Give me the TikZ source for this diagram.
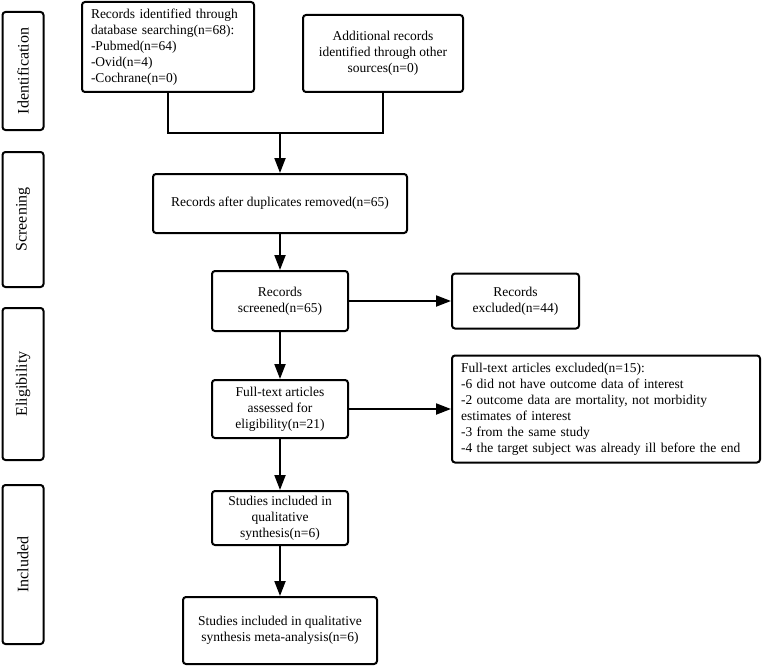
\documentclass[tikz,border=0pt]{standalone}
\usepackage{fontspec}
\setmainfont{Liberation Serif}
\usetikzlibrary{arrows.meta}
\tikzset{
  box/.style={draw, line width=2pt, rounded corners=3pt, align=center, inner sep=0pt,
    font=\fontsize{13.5}{16}\selectfont},
  lbox/.style={draw, line width=2pt, rounded corners=3pt, align=left, inner xsep=9pt, inner ysep=0pt,
    font=\fontsize{13.5}{16}\selectfont},
  side/.style={draw, line width=2pt, rounded corners=3pt, rotate=90, inner sep=0pt,
    minimum height=41pt, font=\fontsize{16}{18}\selectfont},
  conn/.style={line width=2pt},
  arr/.style={line width=2pt, -{Triangle[length=15pt,width=11pt]}},
}
\begin{document}
\begin{tikzpicture}[x=1pt,y=-1pt]
\useasboundingbox (0,0) rectangle (762,666);
% side labels
\node[side, minimum width=118pt] (sid) at (23,71) {Identification};
\node[side, minimum width=135pt] (ssc) at (23,219.5) {Screening};
\node[side, minimum width=152pt] (sel) at (23,384) {Eligibility};
\node[side, minimum width=159pt] (sin) at (23,564.5) {Included};
% boxes
\node[lbox, text width=154pt, minimum height=90pt] (db) at (168,47)
  {Records identified through\\database searching(n=68):\\-Pubmed(n=64)\\-Ovid(n=4)\\-Cochrane(n=0)};
\node[box, minimum width=160pt, minimum height=77pt] (oth) at (383,53.5)
  {Additional records\\identified through other\\sources(n=0)};
\node[box, minimum width=254pt, minimum height=59pt] (dup) at (280,203.5)
  {Records after duplicates removed(n=65)};
\node[box, minimum width=136pt, minimum height=60pt] (scr) at (280,301)
  {Records\\screened(n=65)};
\node[box, minimum width=127pt, minimum height=55pt] (ex1) at (515.5,301)
  {Records\\excluded(n=44)};
\node[box, minimum width=136pt, minimum height=58pt] (ft) at (280,409)
  {Full-text articles\\assessed for\\eligibility(n=21)};
\node[lbox, text width=290pt, minimum height=107pt] (ex2) at (606,409)
  {Full-text articles excluded(n=15):\\-6 did not have outcome data of interest\\-2 outcome data are mortality, not morbidity\\estimates of interest\\-3 from the same study\\-4 the target subject was already ill before the end};
\node[box, minimum width=136pt, minimum height=54pt] (qual) at (280,518)
  {Studies included in\\qualitative\\synthesis(n=6)};
\node[box, minimum width=194pt, minimum height=67pt] (meta) at (280,630.5)
  {Studies included in qualitative\\synthesis meta-analysis(n=6)};
% connectors
\coordinate (m) at (280,133);
\draw[conn] (db.south) |- (m);
\draw[conn] (oth.south) |- (m);
\draw[arr] (m) -- (dup.north);
\draw[arr] (dup.south) -- (scr.north);
\draw[arr] (scr.east) -- (ex1.west);
\draw[arr] (scr.south) -- (ft.north);
\draw[arr] (ft.east) -- (ex2.west);
\draw[arr] (ft.south) -- (qual.north);
\draw[arr] (qual.south) -- (meta.north);
\end{tikzpicture}
\end{document}
